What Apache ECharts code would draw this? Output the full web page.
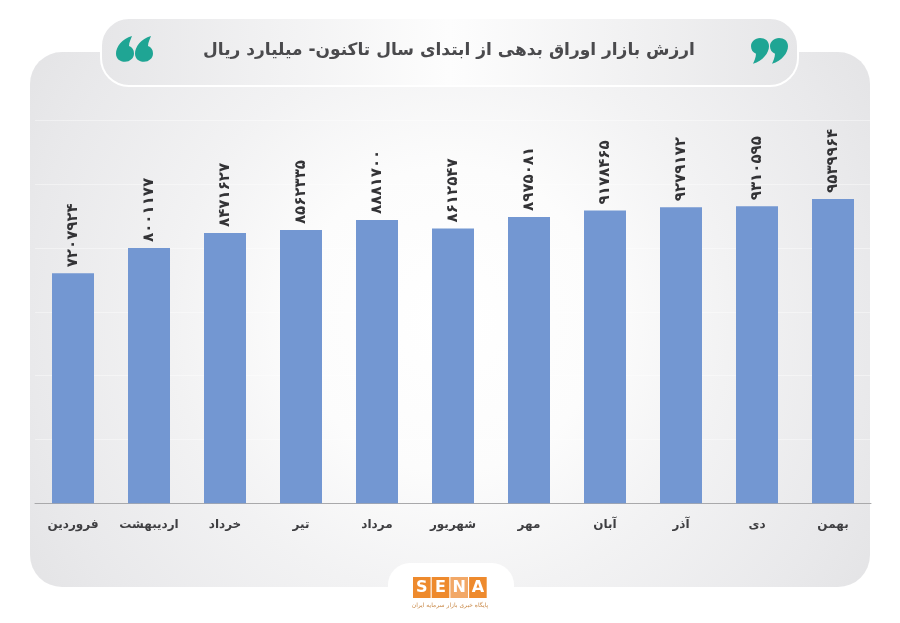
<!DOCTYPE html>
<html>
<head>
<meta charset="utf-8">
<style>
  html, body { margin: 0; padding: 0; background: #fff; }
  #chart { width: 900px; height: 623px; }
</style>
<script src="https://cdn.jsdelivr.net/npm/echarts@6/dist/echarts.min.js"></script>
</head>
<body>
<div id="chart"></div>
<script>
const months = ['فروردین', 'اردیبهشت', 'خرداد', 'تیر', 'مرداد', 'شهریور', 'مهر', 'آبان', 'آذر', 'دی', 'بهمن'];
const marketValue = [7207924, 8001177, 8471627, 8562335, 8881700, 8612547, 8975081, 9178465, 9279172, 9310595, 9539964];
const titleText = 'ارزش بازار اوراق بدهی از ابتدای سال تاکنون- میلیارد ریال';
const logoLetters = ['S', 'E', 'N', 'A'];
const logoTagline = 'پایگاه خبری بازار سرمایه ایران';

const FONT = '"DejaVu Sans", "Noto Sans", sans-serif';

const toPersian = (v) => String(v).replace(/\d/g, (d) => '۰۱۲۳۴۵۶۷۸۹'[d]);

// quote marks: teardrop blob with a pointed tail
echarts.graphic.registerShape('quoteOpen', echarts.graphic.extendPath(
  'M16 0 C6 3 0 12 0 19 C0 25 4 28 9 28 C14 28 18 24 18 19 C18 15 16 12 13 11 C13 7 15 3 16 0 Z', {}));
echarts.graphic.registerShape('quoteClose', echarts.graphic.extendPath(
  'M2 28 C12 25 18 16 18 9 C18 3 14 0 9 0 C4 0 0 4 0 9 C0 13 2 16 5 17 C5 21 3 25 2 28 Z', {}));

const quote = (type, x, y) => ({
  type, x, y, z: -5, scaleX: 1, scaleY: 0.92, silent: true,
  style: { fill: '#1fa594' }
});

const logoCells = logoLetters.flatMap((letter, i) => [
  {
    type: 'rect', z: -5,
    shape: { x: 413 + i * 18.7, y: 577, width: 17.6, height: 21 },
    style: { fill: i === 2 ? '#f2a867' : '#ee8a2d' }
  },
  {
    type: 'text', z: -4,
    style: {
      x: 413 + i * 18.7 + 8.8, y: 588, text: letter, fill: '#fff',
      font: 'bold 16px ' + FONT, align: 'center', verticalAlign: 'middle'
    }
  }
]);

const chart = echarts.init(document.getElementById('chart'), null, { renderer: 'canvas' });

chart.setOption({
  animation: false,
  title: {
    text: titleText,
    left: 444,
    top: 37,
    textAlign: 'center',
    textStyle: { fontFamily: FONT, fontSize: 17, fontWeight: 'bold', color: '#4a4a4d' }
  },
  grid: { left: 35, right: 29, top: 120.4, bottom: 119.7 },
  xAxis: {
    type: 'category',
    data: months,
    axisTick: { show: false },
    axisLine: { lineStyle: { color: '#a9a9ab', width: 1 } },
    axisLabel: {
      margin: 16, interval: 0,
      fontFamily: FONT, fontSize: 12, fontWeight: 'bold', color: '#3f3f42'
    }
  },
  yAxis: {
    type: 'value',
    min: 0,
    max: 12000000,
    interval: 2000000,
    axisLabel: { show: false },
    axisLine: { show: false },
    axisTick: { show: false },
    splitLine: { lineStyle: { color: 'rgba(255,255,255,0.4)', width: 1 } }
  },
  series: [{
    type: 'bar',
    data: marketValue,
    barWidth: 42,
    itemStyle: { color: '#7397d2' },
    label: {
      show: true,
      position: 'top',
      distance: 6,
      rotate: 90,
      align: 'left',
      verticalAlign: 'middle',
      formatter: (p) => toPersian(p.value),
      fontFamily: FONT, fontSize: 15, fontWeight: 'bold', color: '#333336'
    }
  }],
  graphic: [
    {
      type: 'rect', z: -10, silent: true,
      shape: { x: 30, y: 52, width: 840, height: 535, r: 32 },
      style: {
        fill: {
          type: 'radial', x: 0.5, y: 0.5, r: 0.95,
          colorStops: [
            { offset: 0, color: '#ffffff' },
            { offset: 0.3, color: '#fcfcfc' },
            { offset: 0.55, color: '#f2f2f3' },
            { offset: 0.83, color: '#e9e9eb' },
            { offset: 1, color: '#e3e3e5' }
          ]
        }
      }
    },
    {
      type: 'rect', z: -9, silent: true,
      shape: { x: 388, y: 563, width: 126, height: 40, r: [22, 22, 0, 0] },
      style: { fill: '#fff' }
    },
    {
      type: 'rect', z: -9, silent: true,
      shape: { x: 101, y: 18, width: 697, height: 68, r: 28 },
      style: {
        fill: {
          type: 'linear', x: 0, y: 0, x2: 1, y2: 0,
          colorStops: [
            { offset: 0, color: '#e6e6e8' },
            { offset: 0.5, color: '#fdfdfd' },
            { offset: 1, color: '#e6e6e8' }
          ]
        },
        stroke: '#fff',
        lineWidth: 2
      }
    },
    quote('quoteOpen', 116, 36),
    quote('quoteOpen', 135, 36),
    quote('quoteClose', 751, 38),
    quote('quoteClose', 770, 38),
    ...logoCells,
    {
      type: 'text', z: -5,
      style: {
        x: 450, y: 605, text: logoTagline, fill: '#c98a4a',
        font: '6px ' + FONT, align: 'center', verticalAlign: 'middle'
      }
    }
  ]
});

window.addEventListener('resize', () => chart.resize());
</script>
</body>
</html>
